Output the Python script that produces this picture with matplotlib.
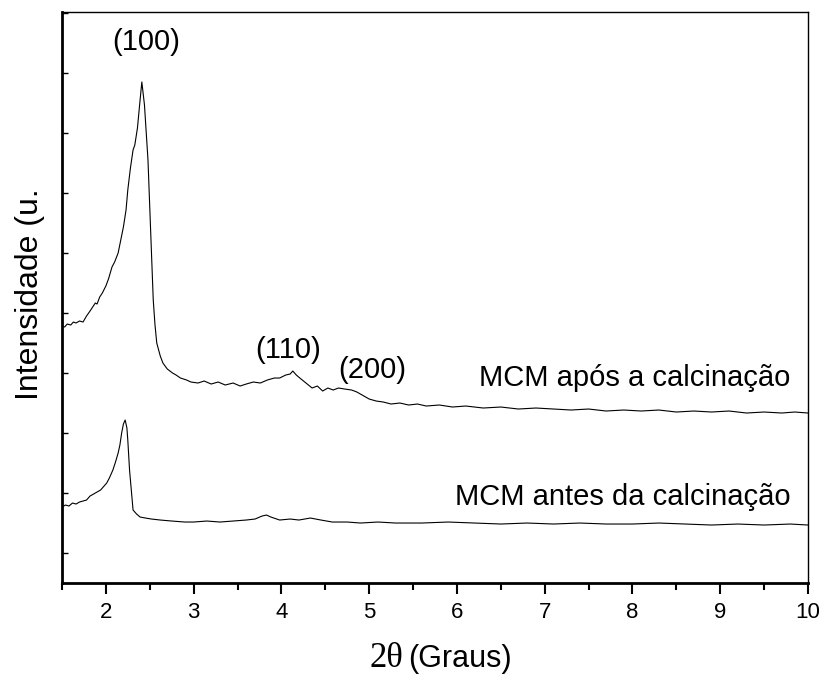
import numpy as np
import matplotlib
matplotlib.use("Agg")
import matplotlib.pyplot as plt

theta_calc = [1.50, 1.53, 1.56, 1.60, 1.63, 1.66, 1.70, 1.74, 1.78, 1.82, 1.85, 1.88, 1.90,
              1.93, 1.96, 2.00, 2.03, 2.07, 2.10, 2.14, 2.17, 2.20, 2.23, 2.25, 2.28, 2.31,
              2.33, 2.36, 2.39, 2.41, 2.44, 2.48, 2.51, 2.54, 2.56, 2.58, 2.62, 2.65, 2.70,
              2.76, 2.80, 2.85, 2.92, 2.97, 3.05, 3.12, 3.20, 3.28, 3.36, 3.45, 3.53, 3.60,
              3.68, 3.76, 3.84, 3.92, 3.98, 4.05, 4.10, 4.13, 4.17, 4.21, 4.28, 4.35, 4.41,
              4.47, 4.53, 4.59, 4.65, 4.72, 4.80, 4.86, 4.92, 5.00, 5.08, 5.16, 5.25, 5.35,
              5.45, 5.55, 5.65, 5.80, 5.95, 6.10, 6.30, 6.50, 6.70, 6.90, 7.10, 7.30, 7.50,
              7.70, 7.90, 8.10, 8.30, 8.50, 8.70, 8.90, 9.10, 9.30, 9.50, 9.70, 9.85, 10.00]
int_calc = [257, 256, 259, 258, 261, 260, 262, 261, 267, 272, 276, 280, 279,
            286, 290, 297, 304, 316, 321, 330, 343, 356, 373, 393, 415, 433,
            438, 455, 483, 501, 478, 423, 353, 283, 258, 240, 227, 220, 214,
            210, 208, 205, 203, 201, 200, 202, 199, 201, 198, 200, 197, 199,
            201, 200, 203, 205, 205, 208, 209, 212, 208, 205, 200, 195, 197,
            192, 195, 193, 195, 194, 193, 191, 188, 184, 182, 181, 179, 180,
            178, 179, 177, 178, 176, 177, 175, 176, 174, 175, 174, 173, 174,
            172, 173, 172, 173, 171, 172, 171, 172, 170, 171, 170, 171, 170]

theta_antes = [1.50, 1.54, 1.58, 1.62, 1.66, 1.70, 1.74, 1.78, 1.82, 1.86, 1.90, 1.94, 1.98,
               2.01, 2.04, 2.06, 2.08, 2.11, 2.14, 2.16, 2.18, 2.20, 2.22, 2.24, 2.25, 2.27,
               2.30, 2.31, 2.35, 2.39, 2.45, 2.52, 2.62, 2.75, 2.90, 3.00, 3.15, 3.30, 3.45,
               3.60, 3.70, 3.78, 3.83, 3.88, 3.98, 4.10, 4.20, 4.33, 4.45, 4.58, 4.75, 4.90,
               5.10, 5.30, 5.60, 5.90, 6.20, 6.50, 6.80, 7.10, 7.40, 7.70, 8.00, 8.30, 8.60,
               8.90, 9.20, 9.50, 9.80, 10.00]
int_antes = [76, 78, 77, 80, 79, 81, 82, 83, 87, 89, 91, 93, 97,
             100, 105, 109, 113, 121, 130, 138, 150, 159, 163, 155, 143, 113,
             83, 73, 69, 66, 65, 64, 63, 62, 61, 61, 62, 61, 62,
             63, 64, 67, 68, 66, 63, 64, 63, 65, 63, 61, 61, 60,
             61, 60, 60, 61, 60, 59, 60, 59, 60, 59, 59, 60, 59,
             58, 59, 58, 59, 58]

picos = ["(100)", "(110)", "(200)"]
picos_x = [2.46, 4.08, 5.04]
picos_y = [541, 233, 213]

fig = plt.figure(figsize=(8.24, 6.77), dpi=100)
ax = fig.add_axes([0.0752, 0.1388, 0.9054, 0.8435])

ax.plot(theta_calc, int_calc, color="black", lw=0.8)
ax.plot(theta_antes, int_antes, color="black", lw=0.8)

fonte = "Liberation Sans"
for rot, px, py in zip(picos, picos_x, picos_y):
    ax.text(px, py, rot, ha="center", va="center", fontsize=21, family=fonte)
ax.text(9.80, 205, "MCM após a calcinação", ha="right", va="center", fontsize=21, family=fonte)
ax.text(9.80, 86, "MCM antes da calcinação", ha="right", va="center", fontsize=21, family=fonte)

ax.set_xlim(1.5, 10)
ax.set_ylim(0, 571)
ax.set_xticks(np.arange(2, 11, 1))
ax.set_xticks(np.arange(1.5, 10.01, 0.5), minor=True)
ax.set_yticks(np.arange(30, 571, 60))
ax.set_yticklabels([])
ax.tick_params(axis="x", which="major", direction="out", length=8, width=1.5, labelsize=16, pad=6)
ax.tick_params(axis="x", which="minor", direction="out", length=5, width=1.5)
ax.tick_params(axis="y", direction="in", length=4, width=1)
for lab in ax.get_xticklabels():
    lab.set_family(fonte)

ax.spines["left"].set_linewidth(2)
ax.spines["bottom"].set_linewidth(2)
ax.spines["top"].set_linewidth(1)
ax.spines["right"].set_linewidth(1)

fig.text(0.036, 0.566, "Intensidade (u.", rotation=90, ha="center", va="center",
         fontsize=23, family=fonte)
fig.text(0.490, 0.027, "2θ", ha="right", va="center", fontsize=25, family="Liberation Serif")
fig.text(0.495, 0.027, "(Graus)", ha="left", va="center", fontsize=22, family=fonte)

fig.savefig("out.png", dpi=100)
